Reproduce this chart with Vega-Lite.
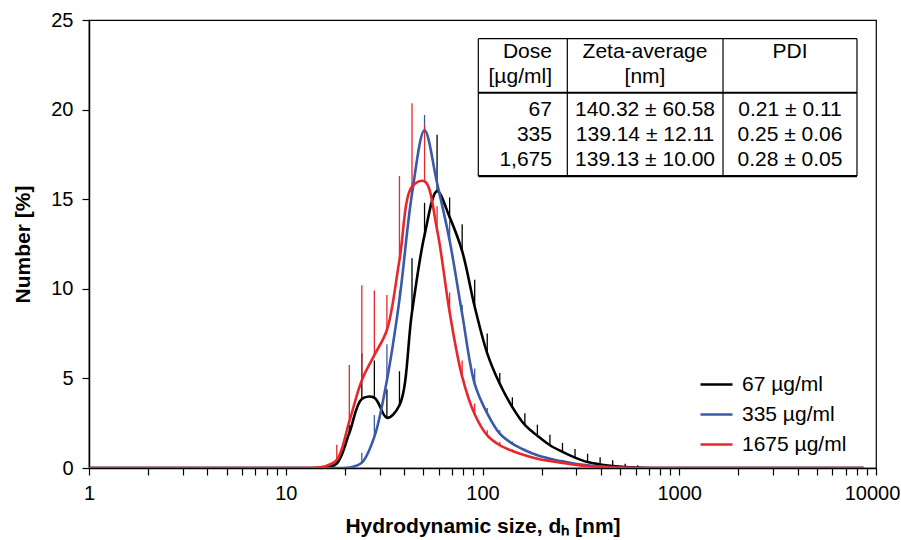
{
  "$schema": "https://vega.github.io/schema/vega-lite/v6.json",
  "width": 787,
  "height": 448,
  "autosize": "none",
  "padding": {"left": 89, "top": 20, "right": 25, "bottom": 72},
  "config": {
    "font": "Liberation Sans",
    "view": {"stroke": "#000", "strokeWidth": 1.2},
    "axis": {
      "domainColor": "#000", "domainWidth": 1.5,
      "tickColor": "#000", "tickWidth": 1.2, "tickSize": 7,
      "labelFontSize": 20, "labelColor": "#000",
      "titleFontSize": 21, "titleFontWeight": "bold", "titleColor": "#000",
      "grid": false
    }
  },
  "datasets": {
    "dist": [
      {"size": 0.9649, "dose": "67 µg/ml", "number": 0},
      {"size": 5.615, "dose": "67 µg/ml", "number": 0},
      {"size": 10.10, "dose": "67 µg/ml", "number": 0},
      {"size": 13.54, "dose": "67 µg/ml", "number": 0},
      {"size": 15.69, "dose": "67 µg/ml", "number": 0},
      {"size": 18.17, "dose": "67 µg/ml", "number": 0.25, "upper": 0.5},
      {"size": 21.04, "dose": "67 µg/ml", "number": 1.95, "upper": 2.4},
      {"size": 24.36, "dose": "67 µg/ml", "number": 3.85, "upper": 6.4},
      {"size": 28.21, "dose": "67 µg/ml", "number": 3.92, "upper": 6.0},
      {"size": 32.67, "dose": "67 µg/ml", "number": 2.8, "upper": 4.4},
      {"size": 37.84, "dose": "67 µg/ml", "number": 3.5, "upper": 5.4},
      {"size": 43.82, "dose": "67 µg/ml", "number": 8.7, "upper": 11.7},
      {"size": 50.75, "dose": "67 µg/ml", "number": 13.0, "upper": 14.8},
      {"size": 58.77, "dose": "67 µg/ml", "number": 15.45, "upper": 18.6},
      {"size": 68.06, "dose": "67 µg/ml", "number": 14.0, "upper": 15.1},
      {"size": 78.82, "dose": "67 µg/ml", "number": 12.1, "upper": 13.6},
      {"size": 91.28, "dose": "67 µg/ml", "number": 9.0, "upper": 10.5},
      {"size": 105.7, "dose": "67 µg/ml", "number": 6.4, "upper": 7.5},
      {"size": 122.4, "dose": "67 µg/ml", "number": 4.7, "upper": 5.3},
      {"size": 141.8, "dose": "67 µg/ml", "number": 3.4, "upper": 3.95},
      {"size": 164.2, "dose": "67 µg/ml", "number": 2.4, "upper": 3.05},
      {"size": 190.1, "dose": "67 µg/ml", "number": 1.8, "upper": 2.42},
      {"size": 220.2, "dose": "67 µg/ml", "number": 1.27, "upper": 1.86},
      {"size": 255.0, "dose": "67 µg/ml", "number": 0.9, "upper": 1.4},
      {"size": 295.3, "dose": "67 µg/ml", "number": 0.58, "upper": 1.06},
      {"size": 342.0, "dose": "67 µg/ml", "number": 0.33, "upper": 0.8},
      {"size": 396.1, "dose": "67 µg/ml", "number": 0.2, "upper": 0.6},
      {"size": 458.7, "dose": "67 µg/ml", "number": 0.11, "upper": 0.43},
      {"size": 531.2, "dose": "67 µg/ml", "number": 0.05, "upper": 0.24},
      {"size": 615.1, "dose": "67 µg/ml", "number": 0.02, "upper": 0.15},
      {"size": 712.4, "dose": "67 µg/ml", "number": 0},
      {"size": 825.0, "dose": "67 µg/ml", "number": 0},
      {"size": 1484, "dose": "67 µg/ml", "number": 0},
      {"size": 3091, "dose": "67 µg/ml", "number": 0},
      {"size": 8635, "dose": "67 µg/ml", "number": 0},

      {"size": 0.9649, "dose": "335 µg/ml", "number": 0},
      {"size": 5.615, "dose": "335 µg/ml", "number": 0},
      {"size": 10.10, "dose": "335 µg/ml", "number": 0},
      {"size": 13.54, "dose": "335 µg/ml", "number": 0},
      {"size": 15.69, "dose": "335 µg/ml", "number": 0},
      {"size": 18.17, "dose": "335 µg/ml", "number": 0},
      {"size": 21.04, "dose": "335 µg/ml", "number": 0.02},
      {"size": 24.36, "dose": "335 µg/ml", "number": 0.3, "upper": 0.85},
      {"size": 28.21, "dose": "335 µg/ml", "number": 1.75, "upper": 2.95},
      {"size": 32.67, "dose": "335 µg/ml", "number": 4.9, "upper": 6.9},
      {"size": 37.84, "dose": "335 µg/ml", "number": 9.4, "upper": 9.9},
      {"size": 43.82, "dose": "335 µg/ml", "number": 15.3, "upper": 15.9},
      {"size": 50.75, "dose": "335 µg/ml", "number": 18.85, "upper": 19.7},
      {"size": 58.77, "dose": "335 µg/ml", "number": 15.9, "upper": 16.8},
      {"size": 68.06, "dose": "335 µg/ml", "number": 12.7, "upper": 13.8},
      {"size": 78.82, "dose": "335 µg/ml", "number": 8.6, "upper": 9.1},
      {"size": 91.28, "dose": "335 µg/ml", "number": 4.7, "upper": 5.55},
      {"size": 105.7, "dose": "335 µg/ml", "number": 3.05, "upper": 3.35},
      {"size": 122.4, "dose": "335 µg/ml", "number": 1.92, "upper": 2.1},
      {"size": 141.8, "dose": "335 µg/ml", "number": 1.36, "upper": 1.48},
      {"size": 164.2, "dose": "335 µg/ml", "number": 0.99, "upper": 1.08},
      {"size": 190.1, "dose": "335 µg/ml", "number": 0.71, "upper": 0.78},
      {"size": 220.2, "dose": "335 µg/ml", "number": 0.52, "upper": 0.57},
      {"size": 255.0, "dose": "335 µg/ml", "number": 0.37, "upper": 0.41},
      {"size": 295.3, "dose": "335 µg/ml", "number": 0.24, "upper": 0.27},
      {"size": 342.0, "dose": "335 µg/ml", "number": 0.15, "upper": 0.17},
      {"size": 396.1, "dose": "335 µg/ml", "number": 0.09},
      {"size": 458.7, "dose": "335 µg/ml", "number": 0.04},
      {"size": 531.2, "dose": "335 µg/ml", "number": 0.01},
      {"size": 615.1, "dose": "335 µg/ml", "number": 0},
      {"size": 825.0, "dose": "335 µg/ml", "number": 0},
      {"size": 1484, "dose": "335 µg/ml", "number": 0},
      {"size": 3091, "dose": "335 µg/ml", "number": 0},
      {"size": 8635, "dose": "335 µg/ml", "number": 0},

      {"size": 0.9649, "dose": "1675 µg/ml", "number": 0},
      {"size": 5.615, "dose": "1675 µg/ml", "number": 0},
      {"size": 10.10, "dose": "1675 µg/ml", "number": 0},
      {"size": 13.54, "dose": "1675 µg/ml", "number": 0},
      {"size": 15.69, "dose": "1675 µg/ml", "number": 0.08},
      {"size": 18.17, "dose": "1675 µg/ml", "number": 0.45, "upper": 1.3},
      {"size": 21.04, "dose": "1675 µg/ml", "number": 2.6, "upper": 5.75},
      {"size": 24.36, "dose": "1675 µg/ml", "number": 4.9, "upper": 10.2},
      {"size": 28.21, "dose": "1675 µg/ml", "number": 6.3, "upper": 9.9},
      {"size": 32.67, "dose": "1675 µg/ml", "number": 7.7, "upper": 9.65},
      {"size": 37.84, "dose": "1675 µg/ml", "number": 11.6, "upper": 16.3},
      {"size": 43.82, "dose": "1675 µg/ml", "number": 15.7, "upper": 20.35},
      {"size": 50.75, "dose": "1675 µg/ml", "number": 16.0, "upper": 19.1},
      {"size": 58.77, "dose": "1675 µg/ml", "number": 13.3, "upper": 14.6},
      {"size": 68.06, "dose": "1675 µg/ml", "number": 8.7, "upper": 9.8},
      {"size": 78.82, "dose": "1675 µg/ml", "number": 5.1, "upper": 6.0},
      {"size": 91.28, "dose": "1675 µg/ml", "number": 3.0, "upper": 3.6},
      {"size": 105.7, "dose": "1675 µg/ml", "number": 1.82, "upper": 2.1},
      {"size": 122.4, "dose": "1675 µg/ml", "number": 1.27, "upper": 1.45},
      {"size": 141.8, "dose": "1675 µg/ml", "number": 0.95, "upper": 1.05},
      {"size": 164.2, "dose": "1675 µg/ml", "number": 0.71, "upper": 0.78},
      {"size": 190.1, "dose": "1675 µg/ml", "number": 0.52, "upper": 0.57},
      {"size": 220.2, "dose": "1675 µg/ml", "number": 0.39, "upper": 0.42},
      {"size": 255.0, "dose": "1675 µg/ml", "number": 0.28, "upper": 0.3},
      {"size": 295.3, "dose": "1675 µg/ml", "number": 0.19, "upper": 0.2},
      {"size": 342.0, "dose": "1675 µg/ml", "number": 0.11},
      {"size": 396.1, "dose": "1675 µg/ml", "number": 0.06},
      {"size": 458.7, "dose": "1675 µg/ml", "number": 0.03},
      {"size": 531.2, "dose": "1675 µg/ml", "number": 0.01},
      {"size": 615.1, "dose": "1675 µg/ml", "number": 0},
      {"size": 825.0, "dose": "1675 µg/ml", "number": 0},
      {"size": 1484, "dose": "1675 µg/ml", "number": 0},
      {"size": 3091, "dose": "1675 µg/ml", "number": 0},
      {"size": 8635, "dose": "1675 µg/ml", "number": 0}
    ],
    "table_thin": [
      {"size": 95.2, "size2": 8005, "number": 23.96, "number2": 23.96},
      {"size": 95.2, "size2": 95.2, "number": 16.29, "number2": 23.96},
      {"size": 269.8, "size2": 269.8, "number": 16.29, "number2": 23.96},
      {"size": 1669, "size2": 1669, "number": 16.29, "number2": 23.96},
      {"size": 8005, "size2": 8005, "number": 16.29, "number2": 23.96}
    ],
    "table_thick": [
      {"size": 95.2, "size2": 8005, "number": 20.94, "number2": 20.94},
      {"size": 95.2, "size2": 8005, "number": 16.29, "number2": 16.29}
    ],
    "table_dose": [
      {"size": 225.5, "number": 23.21, "text": "Dose"},
      {"size": 225.5, "number": 21.82, "text": "[µg/ml]"},
      {"size": 225.5, "number": 19.98, "text": "67"},
      {"size": 225.5, "number": 18.58, "text": "335"},
      {"size": 225.5, "number": 17.19, "text": "1,675"}
    ],
    "table_center": [
      {"size": 669.9, "number": 23.21, "text": "Zeta-average"},
      {"size": 669.9, "number": 21.82, "text": "[nm]"},
      {"size": 669.9, "number": 19.98, "text": "140.32 ± 60.58"},
      {"size": 669.9, "number": 18.58, "text": "139.14 ± 12.11"},
      {"size": 669.9, "number": 17.19, "text": "139.13 ± 10.00"},
      {"size": 3655, "number": 23.21, "text": "PDI"},
      {"size": 3655, "number": 19.98, "text": "0.21 ± 0.11"},
      {"size": 3655, "number": 18.58, "text": "0.25 ± 0.06"},
      {"size": 3655, "number": 17.19, "text": "0.28 ± 0.05"}
    ]
  },
  "layer": [
    {
      "data": {"name": "dist"},
      "transform": [{"filter": "isValid(datum.upper)"}],
      "mark": {"type": "rule", "strokeWidth": 1.3},
      "encoding": {
        "x": {
          "field": "size", "type": "quantitative",
          "title": "Hydrodynamic size, dₕ [nm]",
          "scale": {"type": "log", "domain": [1, 10000], "nice": false},
          "axis": {
            "values": [1, 2, 3, 4, 5, 6, 7, 8, 9, 10, 20, 30, 40, 50, 60, 70, 80, 90, 100, 200, 300, 400, 500, 600, 700, 800, 900, 1000, 2000, 3000, 4000, 5000, 6000, 7000, 8000, 9000, 10000],
            "labelExpr": "indexof([1, 10, 100, 1000, 10000], datum.value) >= 0 ? format(datum.value, 'd') : ''",
            "labelOverlap": false,
            "labelFlush": false,
            "labelPadding": 8,
            "labelOffset": {"condition": {"test": "datum.value === 10000", "value": -4}, "value": 0},
            "titlePadding": 12
          }
        },
        "y": {
          "field": "number", "type": "quantitative",
          "title": "Number [%]",
          "scale": {"domain": [0, 25], "nice": false},
          "axis": {"values": [0, 5, 10, 15, 20, 25], "labelPadding": 9, "titlePadding": 17}
        },
        "y2": {"field": "upper"},
        "color": {
          "field": "dose", "type": "nominal",
          "scale": {"domain": ["67 µg/ml", "335 µg/ml", "1675 µg/ml"], "range": ["#000000", "#3a5aa8", "#e8262b"]},
          "legend": {
            "orient": "none", "legendX": 610, "legendY": 347,
            "title": null, "symbolType": "stroke", "symbolSize": 1024,
            "symbolStrokeWidth": 2.6, "labelFontSize": 21, "labelColor": "#000",
            "rowPadding": 2, "labelOffset": 8
          }
        }
      }
    },
    {
      "data": {"name": "dist"},
      "mark": {"type": "line", "interpolate": "catmull-rom", "strokeWidth": 2.6, "clip": true},
      "encoding": {
        "x": {"field": "size", "type": "quantitative", "title": "Hydrodynamic size, dₕ [nm]"},
        "y": {"field": "number", "type": "quantitative", "title": "Number [%]"},
        "color": {"field": "dose", "type": "nominal"}
      }
    },
    {
      "data": {"name": "table_thin"},
      "mark": {"type": "rule", "strokeWidth": 1.2, "color": "#000"},
      "encoding": {
        "x": {"field": "size", "type": "quantitative", "title": "Hydrodynamic size, dₕ [nm]"},
        "x2": {"field": "size2"},
        "y": {"field": "number", "type": "quantitative", "title": "Number [%]"},
        "y2": {"field": "number2"}
      }
    },
    {
      "data": {"name": "table_thick"},
      "mark": {"type": "rule", "strokeWidth": 2.2, "color": "#000"},
      "encoding": {
        "x": {"field": "size", "type": "quantitative", "title": "Hydrodynamic size, dₕ [nm]"},
        "x2": {"field": "size2"},
        "y": {"field": "number", "type": "quantitative", "title": "Number [%]"},
        "y2": {"field": "number2"}
      }
    },
    {
      "data": {"name": "table_dose"},
      "mark": {"type": "text", "align": "right", "baseline": "middle", "fontSize": 21, "color": "#000"},
      "encoding": {
        "x": {"field": "size", "type": "quantitative", "title": "Hydrodynamic size, dₕ [nm]"},
        "y": {"field": "number", "type": "quantitative", "title": "Number [%]"},
        "text": {"field": "text"}
      }
    },
    {
      "data": {"name": "table_center"},
      "mark": {"type": "text", "align": "center", "baseline": "middle", "fontSize": 21, "color": "#000"},
      "encoding": {
        "x": {"field": "size", "type": "quantitative", "title": "Hydrodynamic size, dₕ [nm]"},
        "y": {"field": "number", "type": "quantitative", "title": "Number [%]"},
        "text": {"field": "text"}
      }
    }
  ]
}
